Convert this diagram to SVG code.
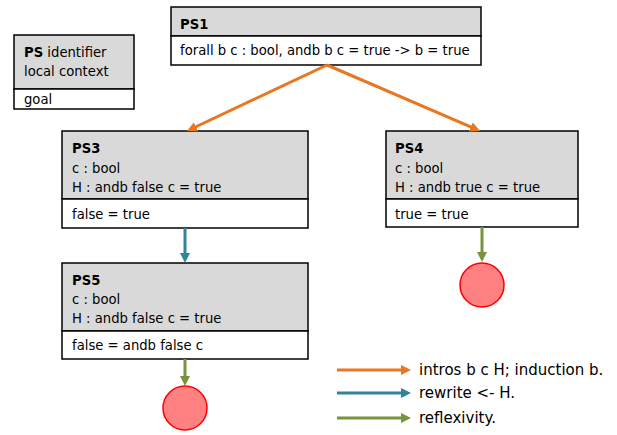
<svg xmlns="http://www.w3.org/2000/svg" width="617" height="435" viewBox="0 0 617 435">
<defs>
<style>
text{font-family:"DejaVu Sans","Verdana",sans-serif;font-size:13.2px;fill:#000}
.b{font-weight:bold}
.hd{fill:#D9D9D9;stroke:#000;stroke-width:1.5}
.gl{fill:#fff;stroke:#000;stroke-width:1.5}
.lg{font-size:15px}
.o{stroke:#E87722;stroke-width:3;fill:none}
.t{stroke:#31849B;stroke-width:3;fill:none}
.g{stroke:#77933C;stroke-width:3;fill:none}
.end{fill:#FF8080;stroke:#FF0000;stroke-width:1.5}
</style>
<marker id="ao" viewBox="0 0 10 10" refX="3" refY="5" markerWidth="10" markerHeight="10" markerUnits="userSpaceOnUse" orient="auto"><path d="M0,0 L10,5 L0,10 z" fill="#E87722"/></marker>
<marker id="at" viewBox="0 0 10 10" refX="3" refY="5" markerWidth="10" markerHeight="10" markerUnits="userSpaceOnUse" orient="auto"><path d="M0,0 L10,5 L0,10 z" fill="#31849B"/></marker>
<marker id="ag" viewBox="0 0 10 10" refX="3" refY="5" markerWidth="10" markerHeight="10" markerUnits="userSpaceOnUse" orient="auto"><path d="M0,0 L10,5 L0,10 z" fill="#77933C"/></marker>
</defs>
<rect width="617" height="435" fill="#fff"/>

<g id="legend-box">
<rect class="hd" x="14" y="35" width="120" height="54"/>
<rect class="gl" x="14" y="89" width="120" height="20"/>
<text x="24" y="57"><tspan class="b">PS</tspan> identifier</text>
<text x="24" y="76">local context</text>
<text x="24" y="104">goal</text>
</g>

<g id="PS1">
<rect class="hd" x="171" y="7" width="310" height="29"/>
<rect class="gl" x="171" y="36" width="310" height="29"/>
<text class="b" x="180" y="29">PS1</text>
<text x="180" y="55">forall b c : bool, andb b c = true -&gt; b = true</text>
</g>

<g id="PS3">
<rect class="hd" x="62" y="131" width="246" height="68"/>
<rect class="gl" x="62" y="199" width="246" height="29"/>
<text class="b" x="72" y="153">PS3</text>
<text x="72" y="173">c : bool</text>
<text x="72" y="192">H : andb false c = true</text>
<text x="72" y="219">false = true</text>
</g>

<g id="PS4">
<rect class="hd" x="386" y="131" width="192" height="68"/>
<rect class="gl" x="386" y="199" width="192" height="28"/>
<text class="b" x="395" y="153">PS4</text>
<text x="395" y="173">c : bool</text>
<text x="395" y="192">H : andb true c = true</text>
<text x="395" y="219">true = true</text>
</g>

<g id="PS5">
<rect class="hd" x="62" y="263" width="246" height="68"/>
<rect class="gl" x="62" y="331" width="246" height="28"/>
<text class="b" x="72" y="285">PS5</text>
<text x="72" y="304">c : bool</text>
<text x="72" y="323">H : andb false c = true</text>
<text x="72" y="350">false = andb false c</text>
</g>

<g id="done4"><circle class="end" cx="482" cy="285" r="22"/></g>
<g id="done5"><circle class="end" cx="185" cy="408" r="22"/></g>

<g id="connectors">
<line class="o" x1="327" y1="65" x2="193.3" y2="128" marker-end="url(#ao)"/>
<line class="o" x1="327" y1="65" x2="473.6" y2="128.2" marker-end="url(#ao)"/>
<line class="t" x1="185" y1="228" x2="185" y2="256" marker-end="url(#at)"/>
<line class="g" x1="482" y1="227" x2="482" y2="255" marker-end="url(#ag)"/>
<line class="g" x1="185" y1="359" x2="185" y2="379" marker-end="url(#ag)"/>
</g>

<g id="legend">
<line class="o" x1="337" y1="370" x2="404" y2="370" marker-end="url(#ao)"/>
<line class="t" x1="337" y1="393" x2="404" y2="393" marker-end="url(#at)"/>
<line class="g" x1="337" y1="418" x2="404" y2="418" marker-end="url(#ag)"/>
<text class="lg" x="419" y="375">intros b c H; induction b.</text>
<text class="lg" x="419" y="398">rewrite &lt;- H.</text>
<text class="lg" x="419" y="423">reflexivity.</text>
</g>
</svg>
